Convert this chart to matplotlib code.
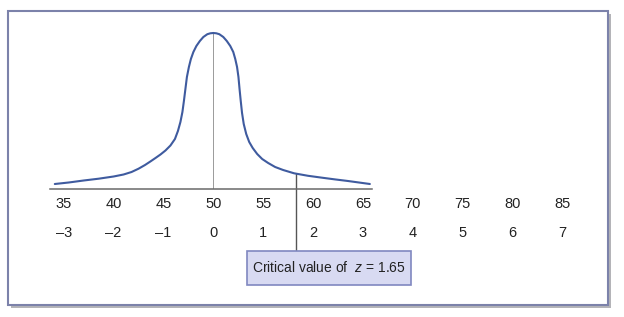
import matplotlib
matplotlib.use('Agg')
import matplotlib.pyplot as plt
from matplotlib.patches import Rectangle
import numpy as np

# curve: raw score and curve height (arbitrary units)
score_left = [34.1, 35.5, 37.0, 38.5, 40.0, 41.0, 41.8, 42.5, 43.15, 43.7,
              44.2, 44.7, 45.2, 45.7, 46.15, 46.45, 46.7, 46.9, 47.05, 47.2,
              47.35, 47.55, 47.75, 48.0, 48.3, 48.65, 49.0, 49.4, 49.7]
height_left = [5, 6.5, 8.5, 10.3, 12.5, 14.5, 17, 20.3, 24, 27.6,
               31, 34.5, 38.5, 43.5, 50, 58, 67, 77, 88, 100,
               112, 122, 130, 137, 143, 148, 152, 154.8, 155.7]
score_right = [50.0, 50.3, 50.6, 51.0, 51.35, 51.7, 52.0, 52.2, 52.38, 52.52,
               52.63, 52.75, 52.88, 53.05, 53.3, 53.6, 53.95, 54.4, 54.9, 55.5,
               56.2, 57.0, 58.1, 59.5, 60.9, 62.2, 63.5, 64.6, 65.7]
height_right = [156, 155.7, 154.8, 152, 148, 143, 137, 130, 122, 112,
                100, 88, 76, 65, 55, 47, 41, 35, 30, 26,
                22, 19, 15.7, 13.2, 11.3, 9.6, 8, 6.5, 5]

raw_ticks = [35, 40, 45, 50, 55, 60, 65, 70, 75, 80, 85]
z_ticks = [-3, -2, -1, 0, 1, 2, 3, 4, 5, 6, 7]
axis_ticks = [35, 40, 45, 50, 55, 60, 65]
mean = 50
sd = 5
z_crit = 1.65
label = 'Critical value of  $z$ = 1.65'

plt.rcParams['font.family'] = ['Liberation Sans Narrow', 'Liberation Sans', 'DejaVu Sans']
plt.rcParams['mathtext.fontset'] = 'custom'
plt.rcParams['mathtext.it'] = 'Liberation Sans:italic'
plt.rcParams['mathtext.rm'] = 'Liberation Sans'

fig = plt.figure(figsize=(6.24, 3.17), dpi=100)

# outer frame with shadow
fig.patches.append(Rectangle((0.0176, 0.0284), 0.9615, 0.926, transform=fig.transFigure,
                             facecolor='#b4b4b8', edgecolor='none', zorder=-3))
fig.patches.append(Rectangle((0.0128, 0.0379), 0.9615, 0.926, transform=fig.transFigure,
                             facecolor='white', edgecolor='#7c82aa', linewidth=1.5, zorder=-2))

ax = fig.add_axes([0.0223, 0.4038, 0.9587, 169 / 317])
ax.set_zorder(2)
ax.set_xlim(30, 90)
ax.set_ylim(0, 169)
ax.patch.set_alpha(0)

xs = score_left + score_right
ys = height_left + height_right
ax.plot(xs, ys, color='#3f5b9f', linewidth=1.5, solid_joinstyle='round',
        solid_capstyle='round', zorder=3)

# mean line
ax.plot([mean, mean], [0, max(ys)], color='#9a9a9a', linewidth=0.7, zorder=2)

for s in ['top', 'right', 'left']:
    ax.spines[s].set_visible(False)
ax.spines['bottom'].set_bounds(33.6, 65.9)
ax.spines['bottom'].set_color('#6a6a6a')
ax.spines['bottom'].set_linewidth(1.1)
ax.set_yticks([])

ax.set_xticks(raw_ticks)
ax.set_xticklabels([str(t) for t in raw_ticks])
ax.set_xticks(axis_ticks, minor=True)
ax.tick_params(axis='x', which='major', length=0, pad=6, labelsize=10.5, labelcolor='#222222')
ax.tick_params(axis='x', which='minor', direction='inout', length=5, width=1, color='#6a6a6a')

for zt in z_ticks:
    txt = str(zt).replace('-', '\u2013')
    ax.text(mean + sd * zt, -44, txt, ha='center', va='center', fontsize=10.5,
            color='#222222', clip_on=False)

# critical value marker and box
x_crit = mean + sd * z_crit
h_crit = np.interp(x_crit, score_right, height_right)
ax.plot([x_crit, x_crit], [h_crit, -62], color='#555555', linewidth=1.0,
        clip_on=False, zorder=2)
ax.add_patch(Rectangle((53.38, -96), 16.45, 34, facecolor='#d8daf2', edgecolor='#8088c0',
                       linewidth=1.2, clip_on=False, zorder=3))
ax.text(61.6, -79, label, ha='center', va='center', fontsize=10, color='#222222',
        clip_on=False, zorder=4)

fig.savefig('out.png', dpi=100)
